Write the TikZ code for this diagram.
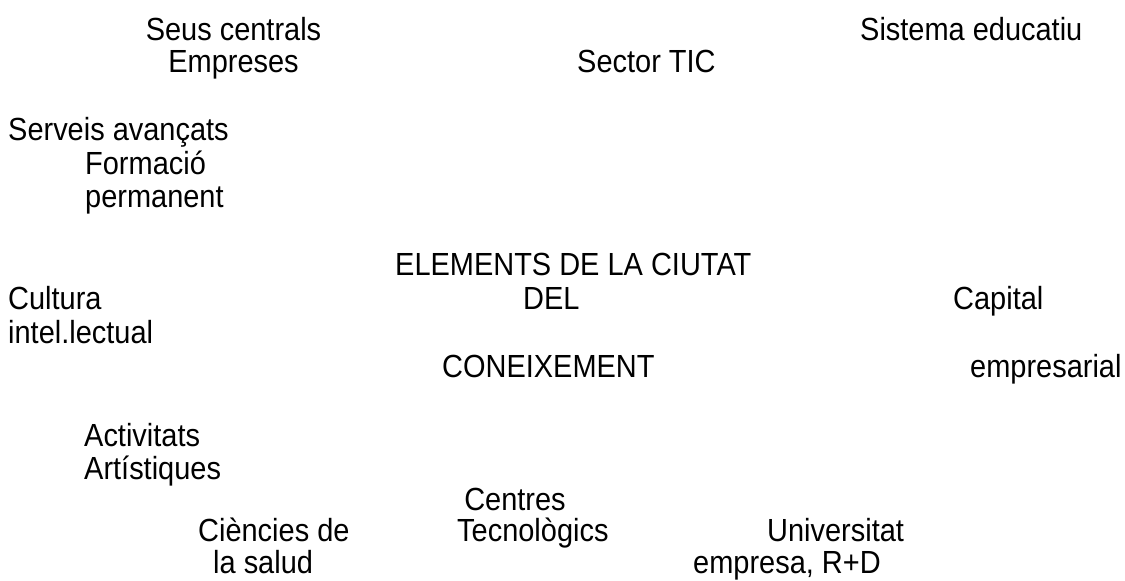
\documentclass[tikz,border=0pt]{standalone}
\usepackage{fontspec}
\setmainfont{Liberation Sans}[FakeStretch=0.905]
\usepackage{tikz}

\begin{document}
\begin{tikzpicture}[x=1pt,y=-1pt,lbl/.style={anchor=base west,inner sep=0pt,font=\fontsize{32}{32}\selectfont},mid/.style={lbl,anchor=base}]
		\useasboundingbox (0,0) rectangle (1125,581);
		\node[mid] (seus) at (233.5,40) {Seus centrals};
		\node[mid] (empreses) at (233.5,72) {Empreses};
		\node[lbl] (tic) at (577,72) {Sector TIC};
		\node[lbl] (sistema) at (860,40) {Sistema educatiu};
		\node[lbl] (serveis) at (8,140) {Serveis avançats};
		\node[lbl] (formacio) at (85,174) {Formació};
		\node[lbl] (permanent) at (85,207) {permanent};
		\node[lbl] (elements) at (395,275) {ELEMENTS DE LA CIUTAT};
		\node[lbl] (cultura) at (8,309) {Cultura};
		\node[lbl] (del) at (523,309) {DEL};
		\node[lbl] (capital) at (953,309) {Capital};
		\node[lbl] (intel) at (8,343) {intel.lectual};
		\node[lbl] (coneix) at (442,377) {CONEIXEMENT};
		\node[lbl] (empresarial) at (970,377) {empresarial};
		\node[lbl] (activitats) at (84,446) {Activitats};
		\node[lbl] (artistiques) at (84,479) {Artístiques};
		\node[mid] (centres) at (515,510) {Centres};
		\node[lbl] (ciencies) at (198,541) {Ciències de};
		\node[lbl] (tecno) at (457,541) {Tecnològics};
		\node[lbl] (univ) at (767,541) {Universitat};
		\node[lbl] (salud) at (213,573) {la salud};
		\node[lbl] (recerca) at (693,573) {empresa, R+D};
	\end{tikzpicture}
\end{document}
